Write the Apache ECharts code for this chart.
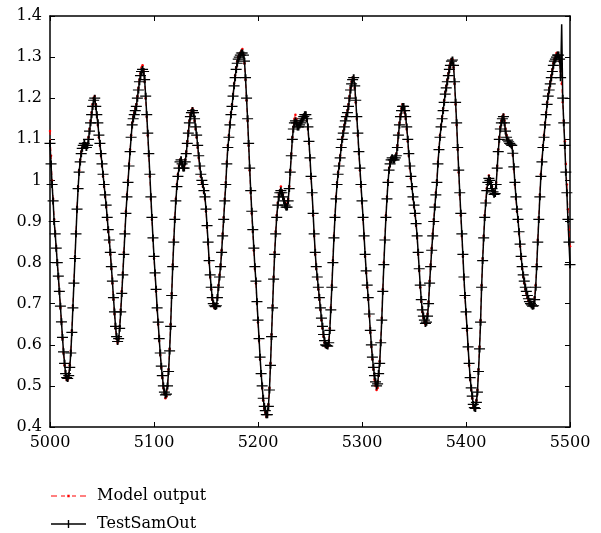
<!DOCTYPE html>
<html>
<head>
<meta charset="utf-8">
<script src="https://cdn.jsdelivr.net/npm/echarts@6/dist/echarts.min.js"></script>
<style>
html,body{margin:0;padding:0;background:#fff;}
#chart{width:601px;height:533px;}
</style>
</head>
<body>
<div id="chart"></div>
<script>
// x runs from 5000 to 5500 in steps of 1
const X_START = 5000;
const xTicks = [5000, 5100, 5200, 5300, 5400, 5500];
const yTicks = [0.4, 0.5, 0.6, 0.7, 0.8, 0.9, 1.0, 1.1, 1.2, 1.3, 1.4];
const seriesNames = ['Model output', 'TestSamOut'];

// TestSamOut (black, '+' markers), one value per step
const testSamOut = [
1.09,1.04,0.99,0.95,0.90,0.87,0.835,0.80,0.767,0.73,
0.694,0.656,0.618,0.583,0.555,0.53,0.52,0.518,0.525,0.545,
0.58,0.63,0.69,0.75,0.81,0.87,0.93,0.98,1.02,1.045,
1.065,1.078,1.085,1.09,1.085,1.08,1.085,1.10,1.12,1.14,
1.16,1.18,1.195,1.20,1.18,1.16,1.14,1.11,1.09,1.065,
1.04,1.015,0.99,0.965,0.94,0.91,0.88,0.855,0.825,0.79,
0.755,0.715,0.68,0.645,0.62,0.608,0.615,0.64,0.68,0.725,
0.77,0.82,0.87,0.92,0.96,0.995,1.035,1.07,1.105,1.135,
1.15,1.16,1.17,1.18,1.20,1.22,1.24,1.255,1.265,1.27,
1.265,1.245,1.205,1.16,1.115,1.065,1.015,0.96,0.91,0.86,
0.815,0.775,0.735,0.69,0.655,0.615,0.58,0.548,0.525,0.50,
0.485,0.478,0.48,0.50,0.535,0.585,0.645,0.72,0.79,0.85,
0.905,0.95,0.985,1.01,1.03,1.045,1.05,1.04,1.03,1.03,
1.045,1.065,1.09,1.115,1.14,1.155,1.165,1.17,1.165,1.15,
1.13,1.11,1.085,1.06,1.035,1.015,1.0,0.99,0.975,0.96,
0.93,0.89,0.85,0.805,0.77,0.74,0.715,0.70,0.695,0.693,
0.695,0.715,0.74,0.765,0.79,0.825,0.865,0.905,0.95,0.99,
1.04,1.08,1.105,1.135,1.16,1.18,1.205,1.23,1.25,1.27,
1.285,1.295,1.30,1.305,1.31,1.31,1.305,1.29,1.25,1.20,
1.15,1.09,1.03,0.975,0.925,0.88,0.835,0.79,0.755,0.705,
0.66,0.615,0.57,0.53,0.50,0.47,0.45,0.44,0.43,0.43,
0.45,0.49,0.55,0.62,0.69,0.76,0.82,0.87,0.91,0.94,
0.96,0.97,0.975,0.97,0.96,0.95,0.94,0.935,0.935,0.95,
0.98,1.02,1.06,1.10,1.125,1.14,1.145,1.14,1.13,1.13,
1.135,1.14,1.145,1.15,1.155,1.16,1.16,1.15,1.13,1.095,
1.055,1.01,0.97,0.92,0.87,0.825,0.79,0.765,0.74,0.715,
0.69,0.665,0.645,0.625,0.61,0.60,0.598,0.597,0.605,0.635,
0.685,0.74,0.80,0.86,0.91,0.955,0.99,1.015,1.035,1.055,
1.08,1.10,1.115,1.13,1.145,1.155,1.165,1.18,1.20,1.22,
1.235,1.245,1.25,1.23,1.195,1.155,1.115,1.07,1.03,0.99,
0.95,0.91,0.865,0.82,0.78,0.745,0.715,0.675,0.635,0.60,
0.57,0.545,0.525,0.51,0.50,0.505,0.53,0.555,0.605,0.66,
0.73,0.795,0.855,0.91,0.955,0.995,1.025,1.04,1.05,1.055,
1.05,1.05,1.055,1.06,1.08,1.11,1.135,1.155,1.17,1.18,
1.18,1.17,1.155,1.13,1.10,1.065,1.035,1.01,0.985,0.96,
0.94,0.92,0.895,0.865,0.825,0.785,0.745,0.71,0.685,0.67,
0.66,0.652,0.655,0.67,0.70,0.75,0.79,0.83,0.865,0.90,
0.935,0.965,0.995,1.04,1.075,1.105,1.13,1.15,1.17,1.19,
1.21,1.225,1.24,1.255,1.27,1.28,1.29,1.293,1.28,1.24,
1.19,1.14,1.08,1.025,0.97,0.92,0.87,0.82,0.765,0.72,
0.68,0.64,0.595,0.555,0.52,0.495,0.475,0.455,0.447,0.445,
0.46,0.485,0.535,0.59,0.655,0.74,0.805,0.86,0.91,0.945,
0.975,0.995,1.005,1.0,0.99,0.98,0.972,0.966,0.968,0.99,
1.03,1.07,1.10,1.125,1.14,1.15,1.155,1.14,1.12,1.105,
1.098,1.094,1.09,1.088,1.085,1.066,1.033,0.995,0.96,0.93,
0.905,0.875,0.845,0.815,0.79,0.77,0.755,0.74,0.73,0.72,
0.712,0.705,0.70,0.697,0.694,0.695,0.71,0.74,0.79,0.85,
0.905,0.96,1.01,1.045,1.08,1.105,1.135,1.16,1.185,1.205,
1.22,1.235,1.25,1.265,1.28,1.29,1.295,1.30,1.305,1.305,
1.295,1.25,1.38,1.20,1.14,1.085,1.02,0.97,0.905,0.85,
0.795
];
// index of the thin spike near the end that carries no marker
const spikeIndex = 492;

// Model output (red dashed, dot markers), one value per step
const modelOutput = [
1.12,1.06,1.0,0.955,0.905,0.87,0.835,0.80,0.765,0.73,
0.69,0.655,0.615,0.58,0.55,0.525,0.515,0.515,0.525,0.55,
0.585,0.635,0.695,0.755,0.815,0.875,0.935,0.985,1.025,1.05,
1.07,1.08,1.085,1.085,1.08,1.08,1.09,1.105,1.125,1.145,
1.165,1.185,1.20,1.205,1.185,1.16,1.135,1.105,1.085,1.06,
1.035,1.01,0.985,0.96,0.935,0.905,0.875,0.85,0.82,0.785,
0.75,0.71,0.675,0.64,0.615,0.605,0.615,0.645,0.685,0.73,
0.775,0.825,0.875,0.925,0.965,1.0,1.04,1.075,1.11,1.14,
1.155,1.165,1.175,1.185,1.205,1.225,1.245,1.26,1.275,1.28,
1.27,1.24,1.20,1.155,1.11,1.06,1.01,0.955,0.905,0.855,
0.81,0.77,0.73,0.685,0.65,0.61,0.575,0.545,0.52,0.495,
0.48,0.47,0.475,0.50,0.54,0.59,0.65,0.725,0.795,0.855,
0.91,0.955,0.99,1.015,1.035,1.05,1.05,1.04,1.03,1.035,
1.05,1.07,1.095,1.12,1.145,1.16,1.17,1.175,1.165,1.145,
1.125,1.105,1.08,1.055,1.03,1.01,0.995,0.985,0.97,0.955,
0.925,0.885,0.845,0.80,0.765,0.735,0.71,0.695,0.69,0.69,
0.695,0.715,0.745,0.77,0.795,0.83,0.87,0.91,0.955,0.995,
1.045,1.085,1.11,1.14,1.165,1.185,1.21,1.235,1.255,1.275,
1.29,1.30,1.305,1.31,1.315,1.32,1.305,1.285,1.245,1.195,
1.145,1.085,1.025,0.97,0.92,0.875,0.83,0.785,0.75,0.70,
0.655,0.61,0.565,0.525,0.495,0.465,0.445,0.435,0.425,0.43,
0.455,0.495,0.555,0.625,0.695,0.765,0.825,0.875,0.915,0.945,
0.965,0.975,0.985,0.975,0.965,0.955,0.945,0.94,0.94,0.955,
0.985,1.025,1.065,1.105,1.13,1.15,1.16,1.15,1.135,1.13,
1.135,1.14,1.145,1.15,1.155,1.16,1.155,1.145,1.125,1.09,
1.05,1.005,0.965,0.915,0.865,0.82,0.785,0.76,0.735,0.71,
0.685,0.66,0.64,0.62,0.605,0.595,0.595,0.595,0.605,0.64,
0.69,0.745,0.805,0.865,0.915,0.96,0.995,1.02,1.04,1.06,
1.085,1.105,1.12,1.135,1.15,1.16,1.17,1.185,1.205,1.225,
1.24,1.25,1.25,1.225,1.19,1.15,1.11,1.065,1.025,0.985,
0.945,0.905,0.86,0.815,0.775,0.74,0.71,0.67,0.63,0.595,
0.565,0.54,0.515,0.50,0.49,0.495,0.525,0.56,0.61,0.665,
0.735,0.80,0.86,0.915,0.96,1.0,1.03,1.045,1.055,1.055,
1.05,1.05,1.055,1.065,1.085,1.115,1.14,1.16,1.175,1.185,
1.18,1.165,1.15,1.125,1.095,1.06,1.03,1.005,0.98,0.955,
0.935,0.915,0.89,0.86,0.82,0.78,0.74,0.705,0.68,0.665,
0.655,0.65,0.655,0.675,0.705,0.755,0.795,0.835,0.87,0.905,
0.94,0.97,1.0,1.045,1.08,1.11,1.135,1.155,1.175,1.195,
1.215,1.23,1.245,1.26,1.275,1.285,1.295,1.295,1.275,1.235,
1.185,1.135,1.075,1.02,0.965,0.915,0.865,0.815,0.76,0.715,
0.675,0.635,0.59,0.55,0.515,0.49,0.47,0.452,0.445,0.445,
0.465,0.49,0.54,0.595,0.66,0.745,0.81,0.865,0.915,0.95,
0.98,1.0,1.012,1.005,0.995,0.985,0.975,0.97,0.972,0.995,
1.035,1.075,1.105,1.13,1.145,1.155,1.16,1.145,1.125,1.11,
1.1,1.095,1.09,1.088,1.083,1.062,1.028,0.99,0.955,0.925,
0.9,0.87,0.84,0.81,0.785,0.765,0.75,0.735,0.725,0.715,
0.708,0.702,0.698,0.695,0.692,0.695,0.715,0.745,0.795,0.855,
0.91,0.965,1.015,1.05,1.085,1.11,1.14,1.165,1.19,1.21,
1.225,1.24,1.255,1.27,1.285,1.295,1.30,1.31,1.31,1.305,
1.29,1.265,1.235,1.19,1.145,1.095,1.04,0.99,0.93,0.88,
0.84
];

const blackData = testSamOut.map((v, i) => i === spikeIndex
  ? { value: [X_START + i, v], symbol: 'none' }
  : [X_START + i, v]);
const redData = modelOutput.map((v, i) => [X_START + i, v]);

const FONT = 'DejaVu Serif';
const chart = echarts.init(document.getElementById('chart'), null, { renderer: 'canvas' });

const baseAxisLine = { show: true, lineStyle: { color: '#000', width: 1.5 } };
const baseTick = { show: true, inside: true, length: 5, lineStyle: { color: '#000', width: 1 } };

// legend icons (35 x 14 box): dashed red line with a dot; solid black line with '+'
const redIcon = 'path://M0,0L0,0M35,14L35,14M0,6.5L6,6.5L6,7.6L0,7.6ZM10,6.5L14,6.5L14,7.6L10,7.6ZM16.3,5.8L18.7,5.8L18.7,8.2L16.3,8.2ZM21,6.5L25,6.5L25,7.6L21,7.6ZM29,6.5L35,6.5L35,7.6L29,7.6Z';
const blackIcon = 'path://M0,0L0,0M35,14L35,14M0,6.3L35,6.3L35,7.8L0,7.8ZM16.8,3L18.2,3L18.2,11L16.8,11Z';

chart.setOption({
  animation: false,
  backgroundColor: '#fff',
  grid: { left: 50, right: 31, top: 16, bottom: 106, containLabel: false },
  xAxis: [
    {
      type: 'value', min: xTicks[0], max: xTicks[xTicks.length - 1], interval: 100,
      position: 'bottom',
      axisLine: baseAxisLine, axisTick: baseTick,
      axisLabel: { show: true, color: '#000', fontFamily: FONT, fontSize: 16, margin: 8,
        formatter: v => String(v), showMinLabel: true, showMaxLabel: true },
      splitLine: { show: false }
    },
    {
      type: 'value', min: xTicks[0], max: xTicks[xTicks.length - 1], interval: 100,
      position: 'top',
      axisLine: baseAxisLine, axisTick: baseTick,
      axisLabel: { show: false }, splitLine: { show: false }
    }
  ],
  yAxis: [
    {
      type: 'value', min: yTicks[0], max: yTicks[yTicks.length - 1], interval: 0.1,
      position: 'left',
      axisLine: baseAxisLine, axisTick: baseTick,
      axisLabel: { show: true, color: '#000', fontFamily: FONT, fontSize: 16, margin: 8,
        formatter: v => String(+(+v).toFixed(1)), showMinLabel: true, showMaxLabel: true },
      splitLine: { show: false }
    },
    {
      type: 'value', min: yTicks[0], max: yTicks[yTicks.length - 1], interval: 0.1,
      position: 'right',
      axisLine: baseAxisLine, axisTick: baseTick,
      axisLabel: { show: false }, splitLine: { show: false }
    }
  ],
  legend: {
    orient: 'vertical', left: 51, top: 488, padding: 0,
    itemWidth: 35, itemHeight: 14, itemGap: 12,
    data: [
      { name: seriesNames[0], icon: redIcon, itemStyle: { color: '#ff0000', borderWidth: 0 } },
      { name: seriesNames[1], icon: blackIcon, itemStyle: { color: '#000', borderWidth: 0 } }
    ],
    textStyle: { color: '#000', fontFamily: FONT, fontSize: 16, padding: [0, 0, 0, 6] },
    selectedMode: false
  },
  series: [
    {
      name: seriesNames[0], type: 'line', data: redData,
      xAxisIndex: 0, yAxisIndex: 0,
      showSymbol: true, symbol: 'circle', symbolSize: 2.5,
      itemStyle: { color: '#ff0000', borderWidth: 0 },
      lineStyle: { color: '#ff0000', width: 1, type: [4, 4] },
      z: 2
    },
    {
      name: seriesNames[1], type: 'line', data: blackData,
      xAxisIndex: 0, yAxisIndex: 0,
      showSymbol: true, symbol: 'path://M0,5L10,5M5,0L5,10', symbolSize: [11, 7],
      itemStyle: { color: 'none', borderColor: '#000', borderWidth: 1.5 },
      lineStyle: { color: '#000', width: 1.5 },
      z: 3
    }
  ]
});
</script>
</body>
</html>
